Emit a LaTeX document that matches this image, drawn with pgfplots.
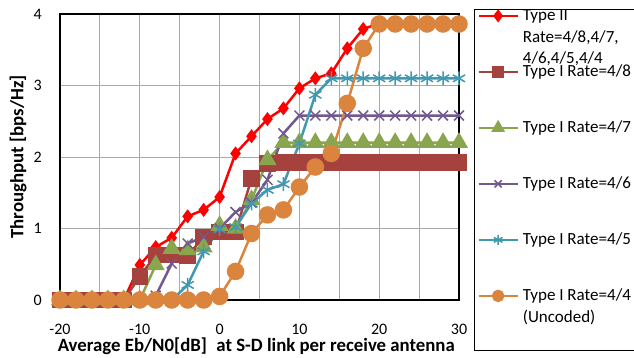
\documentclass[border=0pt]{standalone}
\usepackage{pgfplots}
\pgfplotsset{compat=1.18}
\usepackage{pgfplotstable}
\usepackage{fontspec}
\setmainfont{Carlito}
\definecolor{cred}{RGB}{255,0,0}
\definecolor{cbrown}{RGB}{166,66,62}
\definecolor{cgreen}{RGB}{137,165,78}
\definecolor{cpurple}{RGB}{113,88,143}
\definecolor{cteal}{RGB}{65,152,175}
\definecolor{corange}{RGB}{219,132,61}
\definecolor{cgrid}{RGB}{170,170,170}
\pgfplotstableread{
x r b g p t o
-20 0 0 0 0 0 0
-18 0 0 0 0 0 0
-16 0 0 0 0 0 0
-14 0 0 0 0 0 0
-12 0 0 0 0 0 0
-10 0.49 0.33 0 0 0 0
-8 0.74 0.63 0.49 0.06 0 0
-6 0.87 0.63 0.72 0.51 0 0
-4 1.17 0.62 0.70 0.79 0.21 0
-2 1.26 0.88 0.74 0.88 0.68 0
0 1.44 0.95 1.04 1.00 0.99 0.05
2 2.05 0.95 1.00 1.23 1.02 0.40
4 2.29 1.70 1.40 1.36 1.35 0.93
6 2.53 1.91 1.96 1.68 1.54 1.19
8 2.68 1.92 2.20 2.33 1.62 1.26
10 2.96 1.92 2.20 2.58 2.19 1.58
12 3.10 1.92 2.20 2.58 2.87 1.86
14 3.17 1.92 2.20 2.58 3.10 2.05
16 3.52 1.92 2.20 2.58 3.10 2.75
18 3.79 1.92 2.20 2.58 3.10 3.52
20 3.87 1.92 2.20 2.58 3.10 3.86
22 3.87 1.92 2.20 2.58 3.10 3.86
24 3.87 1.92 2.20 2.58 3.10 3.86
26 3.87 1.92 2.20 2.58 3.10 3.86
28 3.87 1.92 2.20 2.58 3.10 3.86
30 3.87 1.92 2.20 2.58 3.10 3.86
}\data
\newcommand{\lent}[1]{\smash{\raisebox{-5.5pt}{#1}}}
\begin{document}
\begin{tikzpicture}
\begin{axis}[name=ax, scale only axis, width=399pt, height=286pt,
  xmin=-20, xmax=30, ymin=0, ymax=4,
  xtick={-20,-10,...,30}, minor xtick={-15,-5,...,25}, ytick={0,1,2,3,4},
  grid=both, major grid style={cgrid, line width=0.8pt}, minor grid style={cgrid, line width=0.8pt},
  major tick length=0pt, minor tick length=0pt,
  axis line style={black, line width=1.2pt},
  clip=false,
  /pgf/number format/assume math mode=true,
  tick label style={font=\fontsize{16}{19}\selectfont, inner sep=0pt},
  yticklabel style={xshift=-18pt},
  xticklabel style={yshift=-24pt},
  label style={font=\bfseries\fontsize{18.8}{22}\selectfont},
  xlabel={Average Eb/N0[dB]\; at S-D link per receive antenna},
  ylabel={Throughput [bps/Hz]},
  xlabel style={at={(axis description cs:0.492,-0.1818)}, anchor=base},
  ylabel style={at={(axis description cs:-0.105,0.5)}, anchor=center},
  legend style={at={(axis description cs:1,1)}, anchor=north west, xshift=15pt, yshift=5pt,
    draw=black, line width=0.8pt, inner xsep=3pt, inner ysep=0pt,
    font=\fontsize{17}{21.5}\selectfont, column sep=4pt, row sep=43pt, nodes={inner sep=0pt}},
  legend cell align=left,
  legend image code/.code={\path[draw=none, fill=none] (0pt,-6.5pt) rectangle (39pt,6.5pt);
    \draw[mark repeat=2,mark phase=2] plot coordinates {(0pt,0pt) (19.5pt,0pt) (39pt,0pt)};},
]
\addplot[cred, line width=2.5pt, mark=diamond*, mark size=5pt, mark options={solid},
  legend image post style={mark size=4.5pt}] table[x=x,y=r]{\data};
\addlegendentry{\lent{\begin{tabular}[t]{@{}l@{}}Type II\\Rate=4/8,4/7,\\4/6,4/5,4/4\end{tabular}}}
\addplot[cbrown, line width=2.5pt, mark=square*, mark size=7pt, mark options={solid},
  legend image post style={mark size=5pt}] table[x=x,y=b]{\data};
\addlegendentry{\lent{Type I Rate=4/8}}
\addplot[cgreen, line width=2.5pt, mark=triangle*, mark size=8pt, mark options={solid},
  legend image post style={mark size=5.5pt}] table[x=x,y=g]{\data};
\addlegendentry{\lent{Type I Rate=4/7}}
\addplot[cpurple, line width=2.5pt, mark=x, mark size=7pt, mark options={solid, line width=1.5pt},
  legend image post style={mark size=5pt}] table[x=x,y=p]{\data};
\addlegendentry{\lent{Type I Rate=4/6}}
\addplot[cteal, line width=2.5pt, mark=asterisk, mark size=7pt, mark options={solid, line width=1.5pt},
  legend image post style={mark size=5pt}] table[x=x,y=t]{\data};
\addlegendentry{\lent{Type I Rate=4/5}}
\addplot[corange, line width=2.5pt, mark=*, mark size=7.5pt, mark options={solid},
  legend image post style={mark size=5pt}] table[x=x,y=o]{\data};
\addlegendentry{\lent{\begin{tabular}[t]{@{}l@{}}Type I Rate=4/4\\(Uncoded)\end{tabular}}}
\addlegendimage{empty legend}
\addlegendentry{\rule{0pt}{3.5pt}}
\end{axis}
\pgfresetboundingbox
\path[use as bounding box] ([shift={(-60pt,-58pt)}]ax.south west) rectangle ([shift={(574pt,300pt)}]ax.south west);
\end{tikzpicture}
\end{document}
